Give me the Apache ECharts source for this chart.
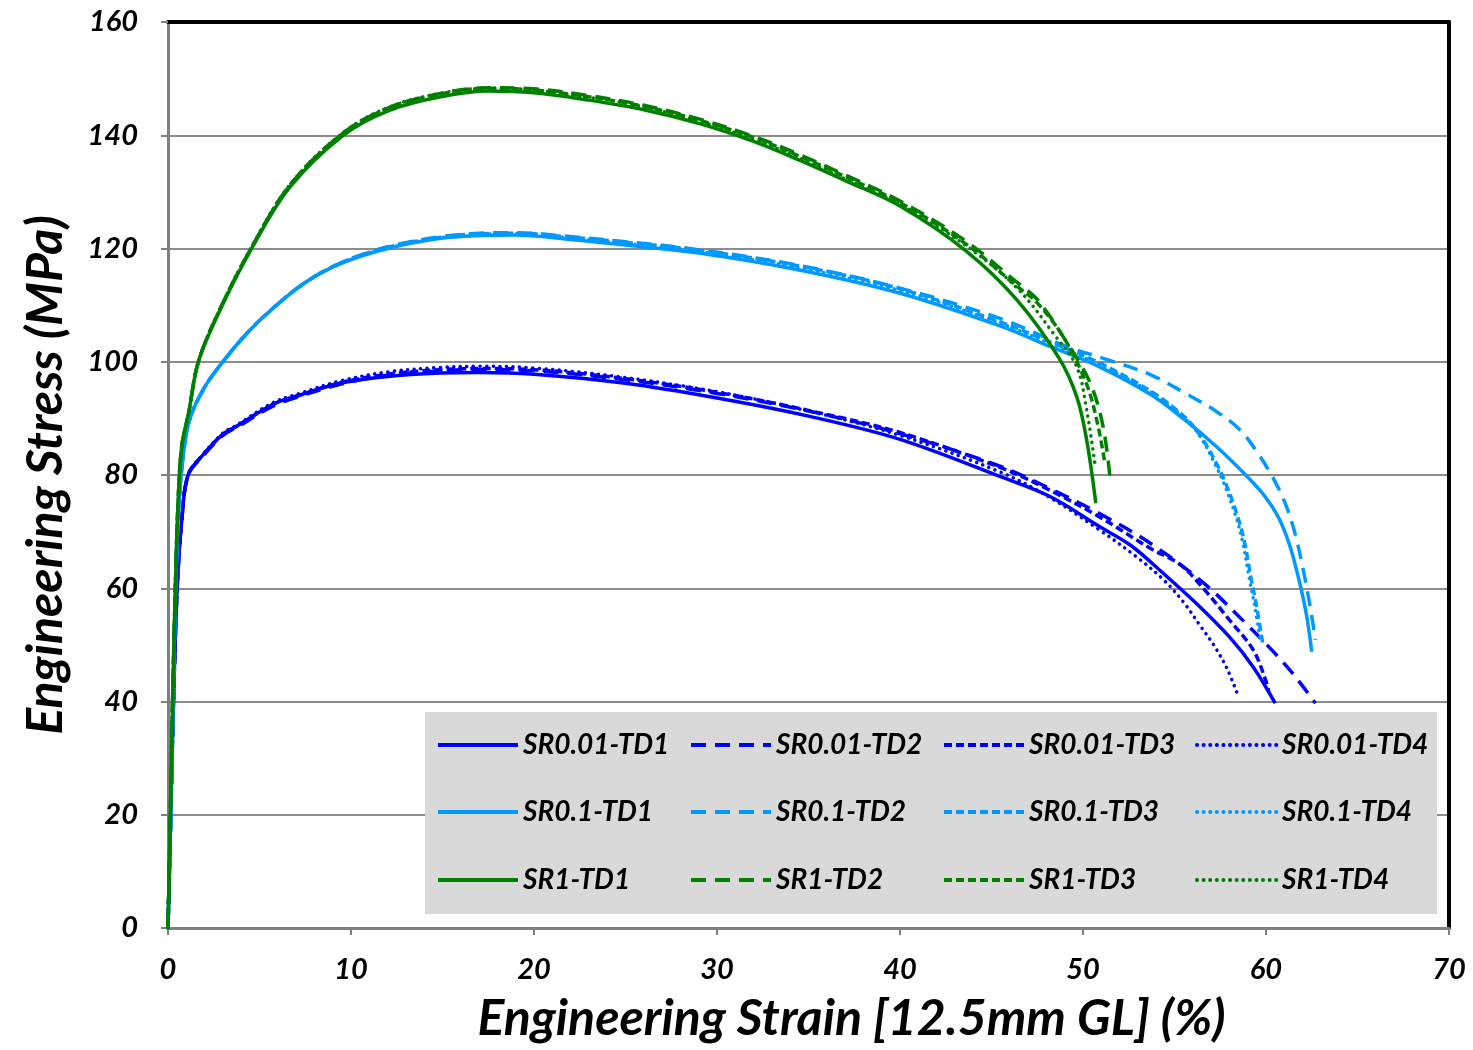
<!DOCTYPE html>
<html>
<head>
<meta charset="utf-8">
<script src="https://cdn.jsdelivr.net/npm/echarts@6/dist/echarts.min.js"></script>
<style>
  html, body { margin: 0; padding: 0; background: #fff; }
  #chart { width: 1473px; height: 1050px; }
</style>
</head>
<body>
<div id="chart"></div>
<script>
  // [strain %, stress MPa]
  var sr001_td1 = [[0,0],[0.15,20],[0.3,40],[0.5,60],[0.75,72],[1.1,80],[1.9,83.5],[3,87.2],[3.75,88.6],[5.75,92.5],[7.1,94],[9.4,96.2],[12,97.4],[14.9,98],[17,98.1],[20,97.8],[25,96.2],[30,93.6],[35,90.4],[40,86.3],[45.5,79.7],[48.2,76.2],[50.9,70.9],[52.6,67.6],[54.4,62.6],[56.2,57.3],[58,51.4],[59.3,46.1],[60.5,39.7]]
  var sr001_td2 = [[0,0],[0.15,20],[0.3,40],[0.5,60],[0.75,72],[1.1,80],[1.9,83.3],[3,87],[3.75,88.4],[5.75,92.2],[7.1,93.8],[9.4,96],[12,97.6],[14.9,98.4],[17,98.6],[20,98.4],[25,96.8],[30,94.4],[35,91.3],[40,87.3],[45.5,81.5],[48.2,77.6],[50.9,73.2],[53.7,67.9],[56.6,60.9],[58.9,53.8],[60.4,48.8],[61.5,44.8],[62.7,39.7]]
  var sr001_td3 = [[0,0],[0.15,20],[0.3,40],[0.5,60],[0.75,72],[1.1,80],[1.9,83.5],[3,87.2],[3.75,88.6],[5.75,92.5],[7.1,94],[9.4,96.3],[12,97.8],[14.9,98.6],[17,98.8],[20,98.6],[25,97],[30,94.6],[35,91.4],[40,87.5],[45.5,81.3],[48.2,77.3],[50.9,72.6],[53.7,67],[55.3,64.2],[56.6,59.9],[58,54.4],[59.3,49.1],[60,43.6],[60.15,41.7]]
  var sr001_td4 = [[0,0],[0.15,20],[0.3,40],[0.5,60],[0.75,72],[1.1,80],[1.9,83.6],[3,87.4],[3.75,88.8],[5.75,92.8],[7.1,94.3],[9.4,96.6],[12,98.2],[14.9,99],[17,99.2],[20,98.9],[25,97.2],[30,94.7],[35,91.3],[40,87],[45.5,80.5],[48.2,76],[50.9,70.3],[52.9,65.6],[54.4,61.5],[55.5,57.5],[56.4,53.4],[57.2,49.7],[57.9,45.6],[58.5,40.8]]

  var sr01_td1 = [[0,0],[0.15,20],[0.28,40],[0.42,60],[0.6,75],[0.85,84],[1.2,90],[2,95.5],[3,100],[4.3,105],[5.75,109.5],[7.5,114],[9.4,117.3],[12,120],[14.9,121.8],[17,122.3],[19,122.4],[22,121.6],[25,120.6],[29,119.2],[34.5,116.2],[40,112.1],[45.5,106.3],[48.2,102.7],[50.9,99.1],[53.7,94.2],[55.5,89.9],[57.3,85],[58.8,80.3],[59.9,76.4],[60.7,72.4],[61.3,67.5],[61.8,61.5],[62.2,55.5],[62.5,48.8]]
  var sr01_td2 = [[0,0],[0.15,20],[0.28,40],[0.42,60],[0.6,75],[0.85,84],[1.2,90],[2,95.5],[3,100],[4.3,105],[5.75,109.5],[7.5,114],[9.4,117.4],[12,120.3],[14.9,122.1],[17,122.7],[19,122.8],[22,122.1],[25,121.2],[29,119.8],[34.5,117],[40,113],[45.5,107.6],[49.1,102.7],[51.5,100.2],[53.7,97.7],[55.5,94.6],[57.3,91.2],[58.6,87.9],[59.5,84.1],[60.4,79.4],[61.1,74.6],[61.6,69.5],[62,63.8],[62.4,57],[62.7,50.9]]
  var sr01_td3 = [[0,0],[0.15,20],[0.28,40],[0.42,60],[0.6,75],[0.85,84],[1.2,90],[2,95.5],[3,100],[4.3,105],[5.75,109.5],[7.5,114],[9.4,117.4],[12,120.2],[14.9,122],[17,122.6],[19,122.7],[22,122],[25,121.1],[29,119.7],[34.5,116.9],[40,112.9],[45.5,107],[48.2,103.5],[50.9,99.8],[53.7,94.8],[55.5,90.4],[56.4,87],[57.3,82],[57.8,78.5],[58.4,73.2],[58.8,68.5],[59.2,61.5],[59.5,56.5],[59.85,49.7]]
  var sr01_td4 = [[0,0],[0.15,20],[0.28,40],[0.42,60],[0.6,75],[0.85,84],[1.2,90],[2,95.5],[3,100],[4.3,105],[5.75,109.5],[7.5,114],[9.4,117.3],[12,120.1],[14.9,121.9],[17,122.5],[19,122.6],[22,121.9],[25,120.9],[29,119.5],[34.5,116.6],[40,112.6],[45.5,106.8],[48.2,103.2],[50.9,99.5],[53.7,94.6],[55.5,90.2],[56.4,86.8],[57.2,82],[57.7,78.5],[58.3,73.2],[58.7,68.5],[59.1,61.5],[59.4,56.5],[59.7,50.5]]

  var sr1_td1 = [[0,0],[0.13,20],[0.25,40],[0.4,60],[0.55,75],[0.75,85],[1.13,91],[1.66,100],[2.84,109.1],[4.57,120],[6.67,130.9],[9.58,140],[12.1,144.4],[14.9,146.8],[17.5,147.8],[20,147.5],[23,146.2],[26,144.5],[29.1,142],[32,138.9],[34.5,135.6],[37,132],[40,127.5],[43.6,119.6],[46.4,110.9],[48.7,100.6],[49.66,93.8],[50.2,86.2],[50.7,75]]
  var sr1_td2 = [[0,0],[0.13,20],[0.25,40],[0.4,60],[0.55,75],[0.75,85],[1.13,91],[1.66,100],[2.84,109.3],[4.57,120.2],[6.67,131.2],[9.58,140.4],[12.1,144.9],[14.9,147.4],[17.5,148.4],[20,148.2],[23,147],[26,145.3],[29.1,142.8],[32,139.8],[34.5,136.6],[37,133],[40,128.4],[43.6,121.3],[46.4,114],[47.5,111],[49.1,103.5],[50.4,96.2],[51.1,88.5],[51.5,78.8]]
  var sr1_td3 = [[0,0],[0.13,20],[0.25,40],[0.4,60],[0.55,75],[0.75,85],[1.13,91],[1.66,100],[2.84,109.3],[4.57,120.2],[6.67,131.2],[9.58,140.4],[12.1,144.9],[14.9,147.3],[17.5,148.3],[20,148],[23,146.8],[26,145.1],[29.1,142.6],[32,139.6],[34.5,136.3],[37,132.7],[40,128.1],[43.6,120.8],[46.4,113.3],[47.5,110.4],[49,104],[50.2,96],[50.8,89],[51.2,82]]
  var sr1_td4 = [[0,0],[0.13,20],[0.25,40],[0.4,60],[0.55,75],[0.75,85],[1.13,91],[1.66,100],[2.84,109.3],[4.57,120.3],[6.67,131.3],[9.58,140.5],[12.1,145],[14.9,147.4],[17.5,148.3],[20,148],[23,146.7],[26,145],[29.1,142.4],[32,139.3],[34.5,136],[37,132.3],[40,127.8],[43.6,120.5],[46.4,113],[48.5,104.5],[49.66,99.1],[50.2,91.5],[50.66,81.8]]

  var seriesNames = ['SR0.01-TD1','SR0.01-TD2','SR0.01-TD3','SR0.01-TD4',
                     'SR0.1-TD1','SR0.1-TD2','SR0.1-TD3','SR0.1-TD4',
                     'SR1-TD1','SR1-TD2','SR1-TD3','SR1-TD4']
  var seriesData = [sr001_td1, sr001_td2, sr001_td3, sr001_td4,
                    sr01_td1, sr01_td2, sr01_td3, sr01_td4,
                    sr1_td1, sr1_td2, sr1_td3, sr1_td4]

  var colors = ['#0000FF', '#0099FF', '#008000']
  var dashes = ['solid', [15, 9], [8, 4], [0.1, 6.5]]

  var font = 'Lato'
  var chart = echarts.init(document.getElementById('chart'))

  var series = seriesData.map(function (d, i) {
    return {
      name: seriesNames[i],
      type: 'line',
      data: d,
      symbol: 'none',
      smooth: 0.35,
      color: colors[Math.floor(i / 4)],
      lineStyle: {
        color: colors[Math.floor(i / 4)],
        width: 3.5,
        type: dashes[i % 4],
        cap: (i % 4 === 3) ? 'round' : 'butt'
      }
    }
  })

  // one small legend per item, laid out as 3 rows x 4 columns
  var colLeft = [436, 689, 942, 1195]
  var rowTop = [730, 797, 865]
  var legends = seriesNames.map(function (n, i) {
    return {
      data: [n],
      left: colLeft[i % 4],
      top: rowTop[Math.floor(i / 4)],
      padding: 0,
      itemWidth: 80,
      itemHeight: 14,
      itemStyle: { color: 'rgba(0,0,0,0)', borderWidth: 0, opacity: 0 },
      lineStyle: { width: 4 },
      textStyle: {
        fontFamily: font, fontSize: 28, fontWeight: 'bold', fontStyle: 'italic',
        color: '#000', lineHeight: 30
      }
    }
  })

  var labelStyle = {
    fontFamily: font, fontSize: 29, fontWeight: 'bold', fontStyle: 'italic', color: '#000'
  }

  var option = {
    animation: false,
    backgroundColor: '#fff',
    grid: { left: 168, right: 24, top: 22, bottom: 122 },
    legend: legends,
    graphic: [{
      type: 'rect',
      z: 1,
      shape: { x: 425, y: 712, width: 1012, height: 202 },
      style: { fill: '#D9D9D9' }
    }],
    xAxis: [{
      type: 'value',
      min: 0, max: 70, interval: 10,
      name: 'Engineering Strain [12.5mm GL] (%)',
      nameLocation: 'middle',
      nameGap: 66,
      nameTextStyle: {
        fontFamily: font, fontSize: 50, fontWeight: 'bold', fontStyle: 'italic',
        color: '#000', padding: [0, 0, 0, 86]
      },
      axisLine: { lineStyle: { color: '#808080', width: 3 } },
      axisTick: { inside: false, length: 7, lineStyle: { color: '#808080', width: 2 } },
      axisLabel: Object.assign({ margin: 27 }, labelStyle),
      splitLine: { show: false }
    }, {
      type: 'value', position: 'top',
      min: 0, max: 70,
      axisLine: { show: true, onZero: false, lineStyle: { color: '#000', width: 4 } },
      axisTick: { show: false }, axisLabel: { show: false }, splitLine: { show: false }
    }],
    yAxis: [{
      type: 'value',
      min: 0, max: 160, interval: 20,
      name: 'Engineering Stress (MPa)',
      nameLocation: 'middle',
      nameGap: 97,
      nameTextStyle: {
        fontFamily: font, fontSize: 50, fontWeight: 'bold', fontStyle: 'italic', color: '#000'
      },
      axisLine: { show: true, lineStyle: { color: '#808080', width: 3 } },
      axisTick: { show: true, inside: false, length: 7, lineStyle: { color: '#808080', width: 2 } },
      axisLabel: Object.assign({ margin: 30 }, labelStyle),
      splitLine: { lineStyle: { color: '#8c8c8c', width: 2 } }
    }, {
      type: 'value', position: 'right',
      min: 0, max: 160,
      axisLine: { show: true, onZero: false, lineStyle: { color: '#000', width: 4 } },
      axisTick: { show: false }, axisLabel: { show: false }, splitLine: { show: false }
    }],
    series: series
  }

  chart.setOption(option)
</script>
</body>
</html>
